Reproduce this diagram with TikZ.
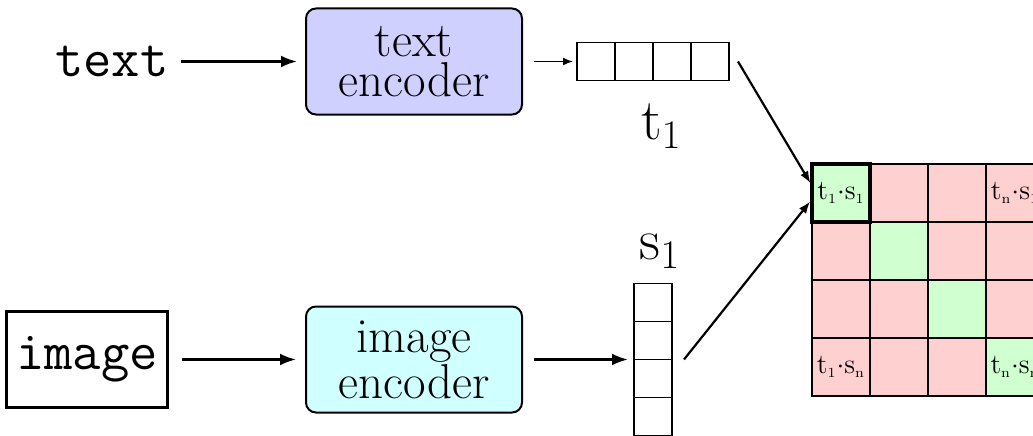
\RequirePackage{fix-cm}
\documentclass[tikz,border=0pt]{standalone}
\usepackage{amsmath}
\usepackage{tikz}
\usetikzlibrary{arrows.meta, calc, positioning}
\usepackage{xcolor}
\definecolor{EncBlue}{RGB}{208, 208, 255}
\definecolor{EncCyan}{RGB}{208, 255, 255}
\definecolor{PairGreen}{RGB}{208, 255, 208}
\definecolor{PairRed}{RGB}{255, 208, 208}
\tikzset{%
  encoder/.style={%
    rectangle,%
    rounded corners=5pt,%
    draw=black,%
    line width=1pt,%
    minimum width=108pt,%
    minimum height=53pt,%
    font={\fontsize{24.5}{20}\selectfont},%
    align=center%
  },
  source/.style={%
    font={\fontsize{27.5}{30}\selectfont\ttfamily},%
    inner sep=0pt,%
  },
  source_box/.style={%
    rectangle,%
    draw=black,%
    line width=1.4pt,%
    minimum width=80.5pt,%
    minimum height=48pt,%
  },
  vec_cell/.style={%
    rectangle,%
    draw=black,%
    line width=0.6pt,%
    minimum size=19pt,%
    inner sep=0pt,%
    outer sep=0pt,%
  },
  pair_cell/.style={%
    rectangle,%
    draw=black,%
    line width=1pt,%
    minimum size=29pt,%
    inner sep=0pt,%
    outer sep=0pt,%
    anchor=north west,%
  },
  vec_label/.style={%
    font={\fontsize{29}{32}\selectfont},%
    inner sep=0pt,%
  },
  pair_label/.style={%
    font={\fontsize{14}{16}\selectfont},%
    inner sep=0pt,%
  },
  signal/.style={%
    line width=1.25pt,%
    line join=round,%
    shorten >=4pt%
  },
  arrow/.style={-{Latex[length=8pt, width=6pt]}},
  small_arrow/.style={-{Latex[length=5pt, width=4pt]}, line width=0.75pt},
  pair_arrow/.style={-{Latex[length=6pt, width=4.5pt]}, line width=1.1pt},
}

\begin{document}
\begin{tikzpicture}[x=0.5pt, y=0.5pt]
    \clip (0, 0) rectangle (1033, 435);

    \node [encoder, fill=EncBlue] (TextEnc) at (414, 373.5) {%
      text\\encoder%
    };
    \node [encoder, fill=EncCyan, below = 95pt of TextEnc] (ImageEnc) {%
      image\\encoder%
    };
    \node [source, left = 68pt of TextEnc] (TextIn) {text};
    \node [source, source_box, left = 68pt of ImageEnc] (ImageIn) {image};

    % text vector
    \node [vec_cell, right = 27pt of TextEnc] (T1) {};
    \node [vec_cell, right = 0pt of T1] (T2) {};
    \node [vec_cell, right = 0pt of T2] (T3) {};
    \node [vec_cell, right = 0pt of T3] (T4) {};
    \node [vec_label, below = 11.5pt of T2.south east, xshift=4.25pt] (TLabel) {%
      \(\mathrm{t}_1\)%
    };

    % image vector
    \coordinate [right = 55.5pt of ImageEnc] (SJoin);
    \node [vec_cell, above right = 0pt and 0pt of SJoin] (S2) {};
    \node [vec_cell, above = 0pt of S2] (S1) {};
    \node [vec_cell, below = 0pt of S2] (S3) {};
    \node [vec_cell, below = 0pt of S3] (S4) {};
    \node [vec_label, above = 7.4pt of S1, xshift=3.5pt] (SLabel) {%
      \(\mathrm{s}_1\)%
    };

    % similarity matrix
    \coordinate [below right = 41.5pt and 41.5pt of T4.south east] (MatCorner);
    \foreach \r in {1,...,4}
      \foreach \c in {1,...,4} {
        \ifnum\r=\c \def\pairfill{PairGreen}\else\def\pairfill{PairRed}\fi
        \node [pair_cell, fill=\pairfill] (M-\r-\c)
          at ([xshift={(\c-1)*29pt}, yshift={(1-\r)*29pt}]MatCorner) {};
      }
    \draw [line width=2pt] (M-1-1.north west) rectangle (M-1-1.south east);
    \node [pair_label] (P11) at (M-1-1) {%
      \(\mathrm{t}_{\scriptscriptstyle 1}{\cdot}\mathrm{s}_{\scriptscriptstyle 1}\)%
    };
    \node [pair_label] (P14) at (M-1-4) {%
      \(\mathrm{t}_{\scriptscriptstyle \mathrm{n}}{\cdot}\mathrm{s}_{\scriptscriptstyle 1}\)%
    };
    \node [pair_label] (P41) at (M-4-1) {%
      \(\mathrm{t}_{\scriptscriptstyle 1}{\cdot}\mathrm{s}_{\scriptscriptstyle \mathrm{n}}\)%
    };
    \node [pair_label] (P44) at (M-4-4) {%
      \(\mathrm{t}_{\scriptscriptstyle \mathrm{n}}{\cdot}\mathrm{s}_{\scriptscriptstyle \mathrm{n}}\)%
    };

    \draw [signal, arrow, shorten <=6pt]
      (TextIn.east) -- (TextEnc.west);
    \draw [signal, arrow, shorten <=6.5pt, shorten >=4.5pt]
      (ImageIn.east) -- (ImageEnc.west);
    \draw [small_arrow, shorten <=5.5pt, shorten >=2pt]
      (TextEnc.east) -- (T1.west);
    \draw [signal, arrow, shorten <=5.5pt, shorten >=3pt]
      (ImageEnc.east) -- (SJoin);
    \draw [pair_arrow, shorten >=1.5pt]
      ([xshift=4.5pt]T4.east) -- (M-1-1.167);
    \draw [pair_arrow, shorten >=1.5pt]
      ([xshift=6pt]S2.south east) -- (M-1-1.193);
\end{tikzpicture}
\end{document}
